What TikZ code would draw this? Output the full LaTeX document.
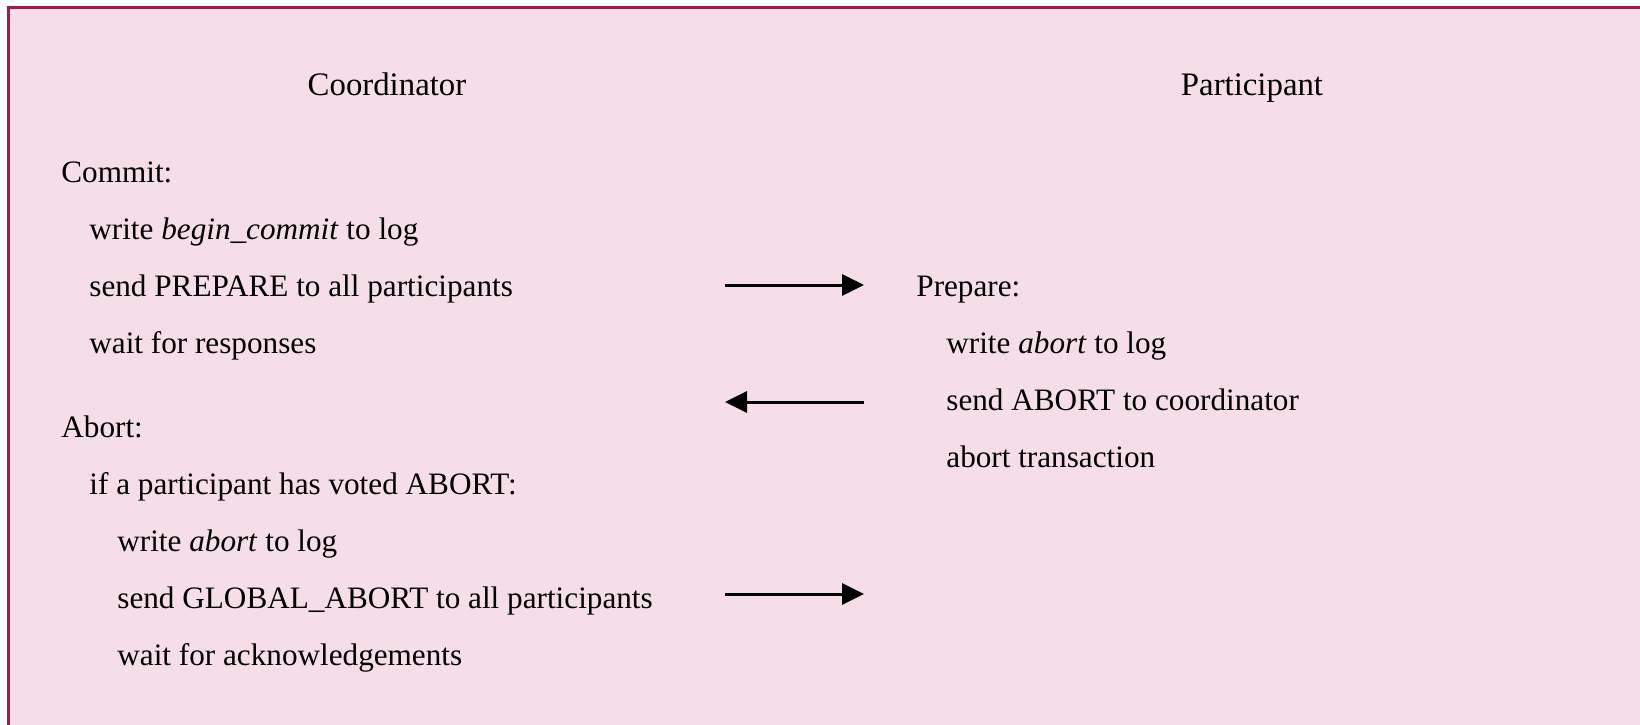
\documentclass[tikz,border=0pt]{standalone}
\usepackage{fontspec}
\setmainfont{Liberation Serif}
\usetikzlibrary{arrows.meta}
\definecolor{panelfill}{RGB}{245,222,231}
\definecolor{panelrule}{RGB}{168,22,80}
\begin{document}
\begin{tikzpicture}[x=0.5pt,y=-0.5pt,
  txt/.style={anchor=base west, inner sep=0pt, font=\fontsize{15.6}{18}\selectfont},
  head/.style={anchor=base, inner sep=0pt, font=\fontsize{16.4}{19}\selectfont},
  msg/.style={line width=1.5pt, -{Triangle[length=11pt,width=10.5pt]}}]
\useasboundingbox (0,0) rectangle (1640,724);
\fill[white] (0,0) rectangle (1640,724);
% framed panel, running past the right and bottom edges
\begin{scope}
  \clip (0,0) rectangle (1640,724);
  \draw[panelrule, fill=panelfill, line width=1.8pt] (8.5,7.5) rectangle (1700,800);
\end{scope}

% column headings
\node[head] (hcoord) at (387,95) {Coordinator};
\node[head] (hpart) at (1252,95) {Participant};

% coordinator side
\node[txt] (commit) at (61,182) {Commit:};
\node[txt] (c1) at (89,239) {write \textit{begin\_commit} to log};
\node[txt] (c2) at (89,296) {send PREPARE to all participants};
\node[txt] (c3) at (89,353) {wait for responses};
\node[txt] (abort) at (61,437) {Abort:};
\node[txt] (a1) at (89,494) {if a participant has voted ABORT:};
\node[txt] (a2) at (117,551) {write \textit{abort} to log};
\node[txt] (a3) at (117,608) {send GLOBAL\_ABORT to all participants};
\node[txt] (a4) at (117,665) {wait for acknowledgements};

% participant side
\node[txt] (prep) at (916,296) {Prepare:};
\node[txt] (p1) at (946,353) {write \textit{abort} to log};
\node[txt] (p2) at (946,410) {send ABORT to coordinator};
\node[txt] (p3) at (946,467) {abort transaction};

% messages between the two sides
\coordinate (m1l) at (725,285);
\coordinate (m1r) at (864,285);
\coordinate (m2l) at (725,402);
\coordinate (m2r) at (864,402);
\coordinate (m3l) at (725,594);
\coordinate (m3r) at (864,594);
\draw[msg] (m1l) -- (m1r);
\draw[msg] (m2r) -- (m2l);
\draw[msg] (m3l) -- (m3r);
\end{tikzpicture}
\end{document}
